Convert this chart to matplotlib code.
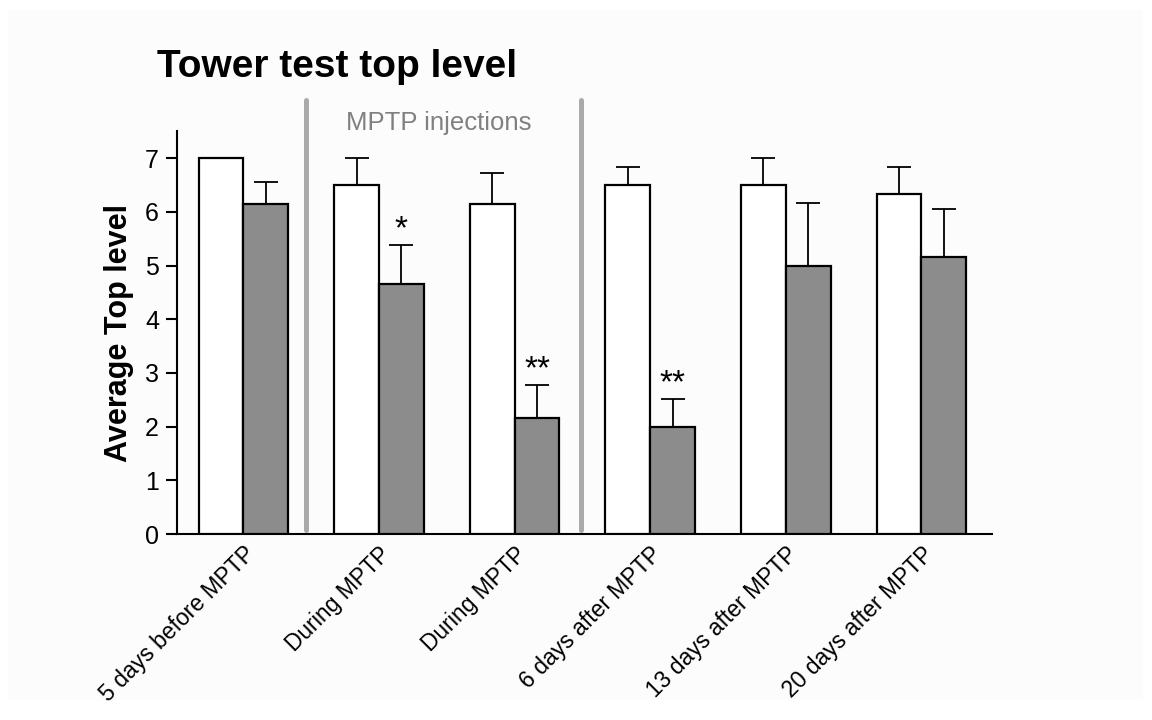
import matplotlib.pyplot as plt
import matplotlib.patches as mpatches
import numpy as np

plt.rcParams['font.family'] = ['Liberation Sans', 'DejaVu Sans']

# data
timepoints = ["5 days before MPTP", "During MPTP", "During MPTP",
              "6 days after MPTP", "13 days after MPTP", "20 days after MPTP"]
control_mean = [7.0, 6.5, 6.15, 6.5, 6.5, 6.33]
control_err = [0.0, 0.5, 0.57, 0.33, 0.5, 0.5]
mptp_mean = [6.15, 4.66, 2.16, 2.0, 5.0, 5.16]
mptp_err = [0.41, 0.72, 0.61, 0.51, 1.17, 0.9]
signif = ["", "*", "**", "**", "", ""]
injection_bounds = [0.46, 2.49]

fig = plt.figure(figsize=(11.52, 7.2), dpi=100, facecolor='white')
fig.patches.append(mpatches.Rectangle((0.007, 0.028), 0.985, 0.958, transform=fig.transFigure,
                                      facecolor='#fcfcfc', edgecolor='none', zorder=-10))
ax = fig.add_axes([0.1536, 0.2583, 0.7075, 0.5594])
ax.set_facecolor('none')

x = np.arange(len(timepoints))
w = 0.33

ax.bar(x - w / 2, control_mean, w, color='white', edgecolor='black', linewidth=1.6, zorder=3)
ax.bar(x + w / 2, mptp_mean, w, color='#8c8c8c', edgecolor='black', linewidth=1.6, zorder=3)
ax.errorbar(x - w / 2, control_mean, yerr=[np.zeros(len(x)), control_err], fmt='none',
            ecolor='black', elinewidth=1.3, capsize=8.3, capthick=1.3, zorder=2)
ax.errorbar(x + w / 2, mptp_mean, yerr=[np.zeros(len(x)), mptp_err], fmt='none',
            ecolor='black', elinewidth=1.3, capsize=8.3, capthick=1.3, zorder=2)

# significance stars
for i, s in enumerate(signif):
    if s:
        ax.annotate(s, (x[i] + w / 2, mptp_mean[i] + mptp_err[i]), xytext=(0, 0),
                    textcoords='offset points', ha='center', va='bottom', fontsize=24)

# injection period markers
for b in injection_bounds:
    ax.plot([b, b], [0.07, 8.08], color='#aaaaaa', linewidth=3.6, clip_on=False,
            solid_capstyle='round', zorder=1)
ax.text(0.76, 7.52, "MPTP injections", color='#808080', fontsize=18.5, ha='left', va='baseline')

ax.set_xlim(-0.49, 5.52)
ax.set_ylim(0, 7.5)
ax.set_yticks(range(8))
ax.tick_params(axis='y', labelsize=18, length=8, width=1.5, direction='out', pad=5)
ax.set_xticks(x)
ax.set_xticklabels(timepoints, rotation=45, ha='right', rotation_mode='anchor', fontsize=16.5)
ax.tick_params(axis='x', length=0, pad=6)
for side in ['top', 'right']:
    ax.spines[side].set_visible(False)
ax.spines['left'].set_linewidth(1.5)
ax.spines['bottom'].set_linewidth(1.5)

ax.set_ylabel("Average Top level", fontsize=22, fontweight='bold', labelpad=8)
fig.text(0.136, 0.893, "Tower test top level", fontsize=28, fontweight='bold', ha='left', va='baseline')

plt.savefig("out.png", dpi=100, facecolor=fig.get_facecolor())
